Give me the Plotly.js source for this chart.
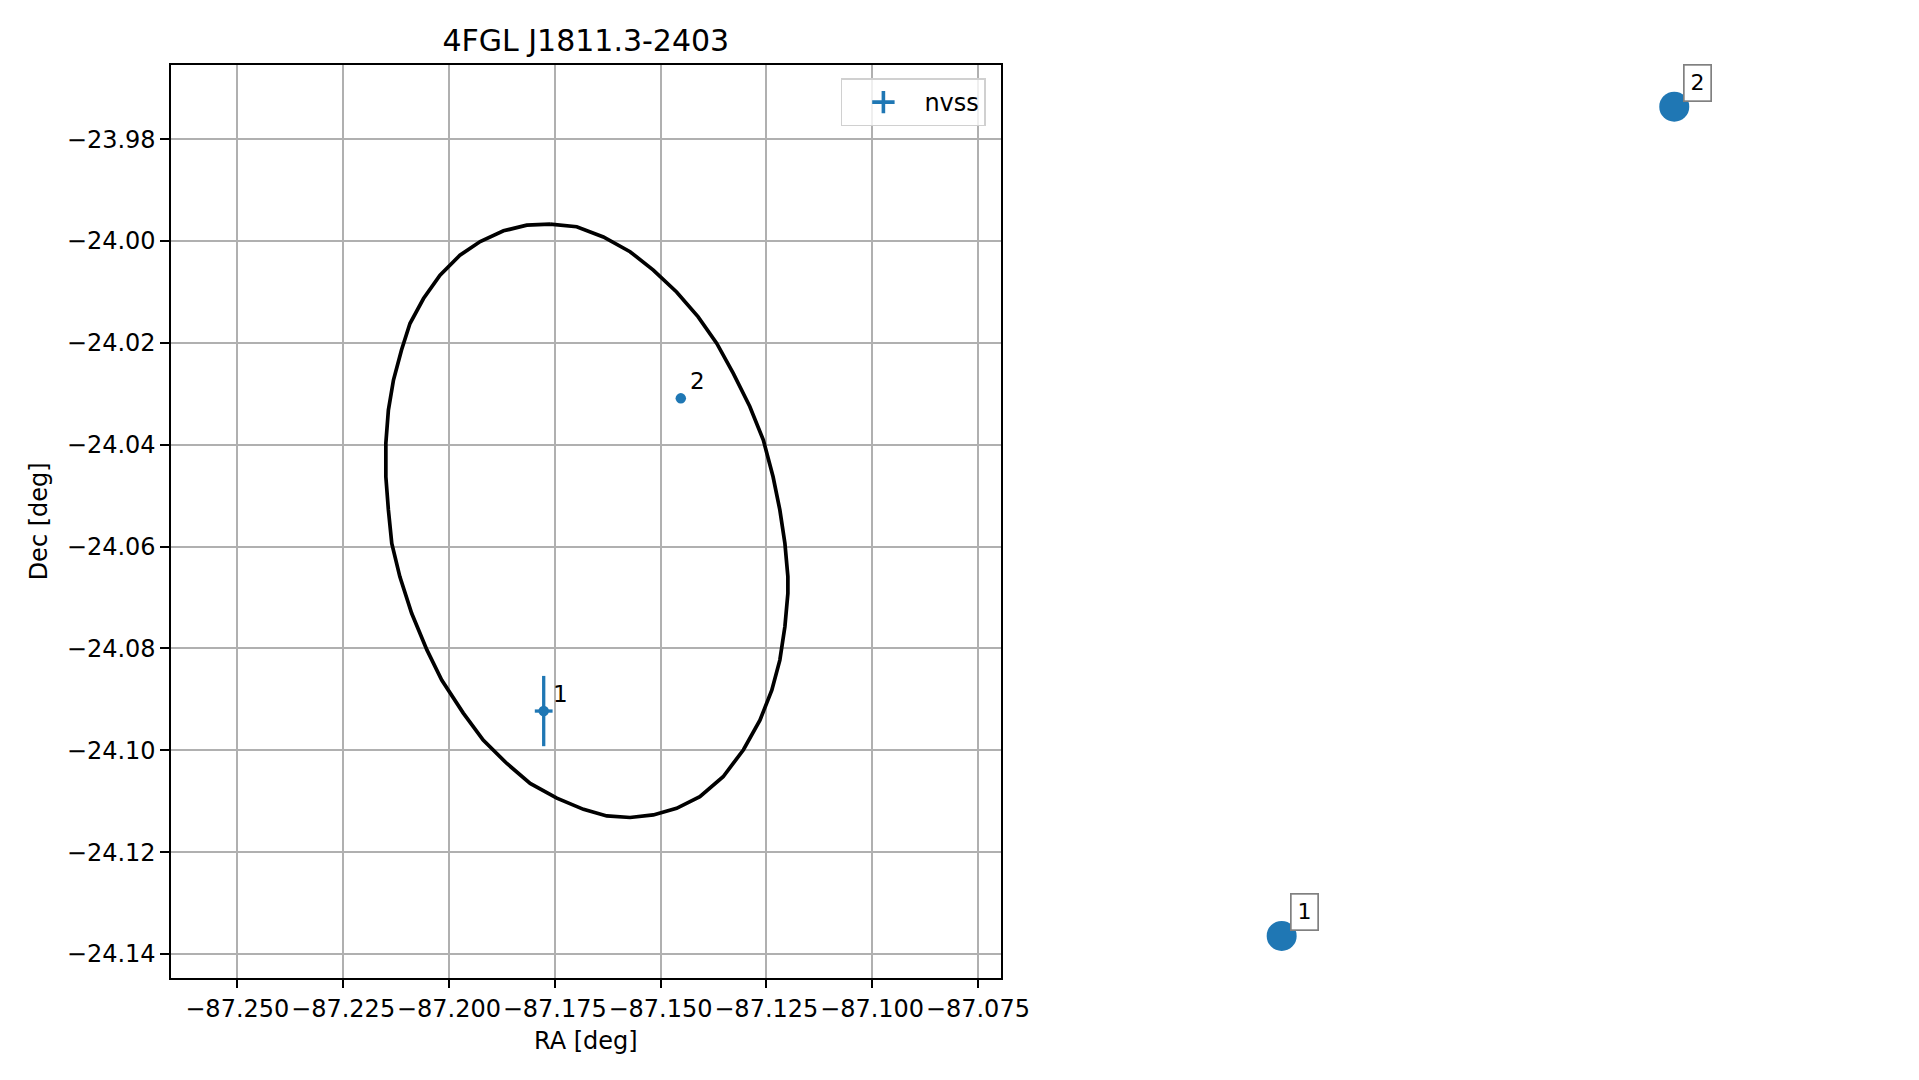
<!DOCTYPE html>
<html>
<head>
<meta charset="utf-8">
<script src="https://cdn.plot.ly/plotly-3.0.1.min.js"></script>
<style>
  html, body { margin: 0; padding: 0; background: #ffffff; }
  #chart { width: 1919px; height: 1080px; }
</style>
</head>
<body>
<div id="chart"></div>
<script>
// ---- data ----
const chartTitle = '4FGL J1811.3-2403';
const xLabel = 'RA [deg]';
const yLabel = 'Dec [deg]';
const legendName = 'nvss';

// NVSS counterparts
const nvssIds = ['1', '2'];
const nvssRA = [-87.1776, -87.1452];
const nvssDec = [-24.0923, -24.0309];
const nvssRAerr = [0.0021, 0.0006];
const nvssDecErr = [0.0069, 0.0005];

// 4FGL error ellipse outline (vertices)
const ellipseRA = [
  -87.1761, -87.1698, -87.1635, -87.1572, -87.1517, -87.1462, -87.1411, -87.1367,
  -87.1328, -87.1289, -87.1257, -87.1234, -87.1218, -87.1206, -87.1199, -87.1199,
  -87.1206, -87.1218, -87.1237, -87.1265, -87.1304, -87.1352, -87.1407, -87.1462,
  -87.1517, -87.1572, -87.1627, -87.1682, -87.1745, -87.1808, -87.1863, -87.1919,
  -87.1966, -87.2017, -87.2052, -87.2088, -87.2116, -87.2135, -87.2143, -87.2149,
  -87.2149, -87.2143, -87.2131, -87.2112, -87.2092, -87.2060, -87.2021, -87.1974,
  -87.1926, -87.1871, -87.1816, -87.1761
];
const ellipseDec = [
  -23.9967, -23.9972, -23.9992, -24.0021, -24.0057, -24.0100, -24.0149, -24.0201,
  -24.0260, -24.0325, -24.0391, -24.0463, -24.0528, -24.0594, -24.0659, -24.0692,
  -24.0757, -24.0823, -24.0882, -24.0941, -24.0999, -24.1052, -24.1091, -24.1114,
  -24.1127, -24.1132, -24.1129, -24.1116, -24.1094, -24.1065, -24.1026, -24.0980,
  -24.0927, -24.0862, -24.0803, -24.0731, -24.0659, -24.0594, -24.0528, -24.0463,
  -24.0397, -24.0332, -24.0273, -24.0214, -24.0162, -24.0113, -24.0067, -24.0028,
  -24.0001, -23.9980, -23.9969, -23.9967
];

// ---- styling ----
const FONT = 'DejaVu Sans, Liberation Sans, sans-serif';
const BLUE = '#1f77b4';
const W = 1919, H = 1080;

const traces = [
  {
    x: ellipseRA, y: ellipseDec, type: 'scatter', mode: 'lines',
    line: { color: '#000000', width: 3.7 },
    showlegend: false, hoverinfo: 'skip', xaxis: 'x', yaxis: 'y'
  },
  {
    x: nvssRA, y: nvssDec, type: 'scatter', mode: 'markers', name: legendName,
    marker: { color: BLUE, size: 10.5 },
    error_x: { type: 'data', array: nvssRAerr, visible: true, color: BLUE, thickness: 3.3, width: 0 },
    error_y: { type: 'data', array: nvssDecErr, visible: true, color: BLUE, thickness: 3.3, width: 0 },
    showlegend: false, legendgroup: 'nvss', xaxis: 'x', yaxis: 'y'
  },
  {
    // legend entry for the NVSS error-bar points
    x: [null], y: [null], type: 'scatter', mode: 'markers', name: legendName,
    marker: { symbol: 'cross-thin', size: 16, color: BLUE, line: { color: BLUE, width: 3.6 } },
    showlegend: true, legendgroup: 'nvss', xaxis: 'x', yaxis: 'y'
  },
  {
    x: nvssRA, y: nvssDec, type: 'scatter', mode: 'markers',
    marker: { color: BLUE, size: 30 },
    showlegend: false, xaxis: 'x2', yaxis: 'y2'
  }
];

const annotations = [];
nvssIds.forEach((id, i) => {
  annotations.push({
    x: nvssRA[i], y: nvssDec[i], xref: 'x', yref: 'y', text: id, showarrow: false,
    xanchor: 'left', yanchor: 'bottom', xshift: 7, yshift: 2, borderpad: 1,
    font: { family: FONT, size: 23, color: '#000000' }
  });
  annotations.push({
    x: nvssRA[i], y: nvssDec[i], xref: 'x2', yref: 'y2', text: id, showarrow: false,
    xanchor: 'left', yanchor: 'bottom', xshift: 8.4, yshift: 5,
    width: 19.6, height: 28.3, align: 'center', valign: 'middle',
    bgcolor: '#ffffff', bordercolor: '#808080', borderwidth: 1.7, borderpad: 3,
    font: { family: FONT, size: 22, color: '#000000' }
  });
});

const px = v => v / W;
const py = v => 1 - v / H;

const layout = {
  width: W, height: H,
  margin: { l: 0, r: 0, t: 0, b: 0, pad: 0 },
  paper_bgcolor: '#ffffff', plot_bgcolor: '#ffffff',
  font: { family: FONT, size: 24, color: '#000000' },
  title: {
    text: chartTitle, font: { family: FONT, size: 30, color: '#000000' },
    x: px(585.8), xref: 'paper', xanchor: 'center',
    y: py(40.4), yref: 'paper', yanchor: 'middle'
  },
  xaxis: {
    domain: [px(170.7), px(1001)], anchor: 'y',
    range: [-87.26574, -87.06954], autorange: false,
    tick0: -87.25, dtick: 0.025, tickformat: '.3f', tickangle: 0,
    ticks: 'outside', ticklen: 8.3, tickwidth: 2, tickcolor: '#000000',
    tickfont: { family: FONT, size: 24, color: '#000000' },
    showgrid: true, gridcolor: '#b0b0b0', gridwidth: 2,
    showline: true, mirror: true, linecolor: '#000000', linewidth: 2,
    zeroline: false,
    title: { text: xLabel, font: { family: FONT, size: 24, color: '#000000' }, standoff: 10 }
  },
  yaxis: {
    domain: [py(977.7), py(65)], anchor: 'x',
    range: [-24.14466, -23.96544], autorange: false,
    tick0: -24.0, dtick: 0.02, tickformat: '.2f',
    ticks: 'outside', ticklen: 8.3, tickwidth: 2, tickcolor: '#000000',
    tickfont: { family: FONT, size: 24, color: '#000000' },
    showgrid: true, gridcolor: '#b0b0b0', gridwidth: 2,
    showline: true, mirror: true, linecolor: '#000000', linewidth: 2,
    zeroline: false,
    title: { text: yLabel, font: { family: FONT, size: 24, color: '#000000' }, standoff: 12 }
  },
  xaxis2: {
    domain: [px(1050), px(1900)], anchor: 'y2',
    range: [-87.19672, -87.12657], autorange: false, visible: false
  },
  yaxis2: {
    domain: [py(1000), py(40)], anchor: 'x2',
    range: [-24.09704, -24.02596], autorange: false, visible: false
  },
  showlegend: true,
  legend: {
    x: px(840.7), xanchor: 'left', y: py(78.3), yanchor: 'top',
    bgcolor: 'rgba(255,255,255,0.8)', bordercolor: '#d0d0d0', borderwidth: 1.7,
    font: { family: FONT, size: 24, color: '#000000' },
    itemwidth: 72
  },
  annotations: annotations
};

Plotly.newPlot('chart', traces, layout, { displayModeBar: false, staticPlot: true });
</script>
</body>
</html>
